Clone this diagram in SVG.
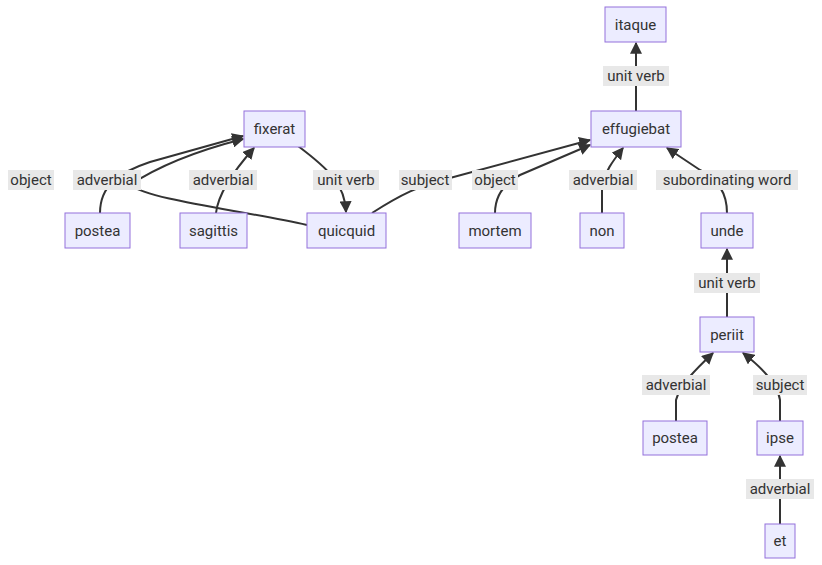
<svg xmlns="http://www.w3.org/2000/svg" width="822" height="565" viewBox="0 0 822 565">
<style>
.n rect{fill:#ECECFF;stroke:#9370DB;stroke-width:1}
text{font-family:Roboto,"Liberation Sans",sans-serif;font-size:15px;fill:#333;text-anchor:middle;dominant-baseline:central}
.e path{fill:none;stroke:#333;stroke-width:2}
.l rect{fill:#e8e8e8}
</style>
<defs><marker id="a" viewBox="0 0 10 10" refX="9" refY="5" markerWidth="6" markerHeight="6" orient="auto"><path d="M0,0L10,5L0,10z" fill="#333"/></marker></defs>
<rect width="822" height="565" fill="#fff"/>
<g class="e">
<path d="M100,213C100,185 120,172 150,162L243,136" marker-end="url(#a)"/>
<path d="M307,225C240,210 150,200 130,185C160,165 200,150 243,139" marker-end="url(#a)"/>
<path d="M216,213C218,195 230,175 254,148" marker-end="url(#a)"/>
<path d="M298,146C330,170 345,185 346,212" marker-end="url(#a)"/>
<path d="M372,213C400,195 420,185 450,178L590,140" marker-end="url(#a)"/>
<path d="M495,213C495,195 505,183 520,175L590,145" marker-end="url(#a)"/>
<path d="M602,213L602,185C605,172 612,162 623,148" marker-end="url(#a)"/>
<path d="M727,213C727,195 720,180 700,170L667,148" marker-end="url(#a)"/>
<path d="M636,111L636,43" marker-end="url(#a)"/>
<path d="M727,317L727,249" marker-end="url(#a)"/>
<path d="M676,421L676,400C680,385 695,370 713,353" marker-end="url(#a)"/>
<path d="M780,421L780,400C778,385 765,370 743,353" marker-end="url(#a)"/>
<path d="M780,524L780,456" marker-end="url(#a)"/>
</g>
<g class="l">
<rect x="8" y="170" width="46" height="20"/><text x="31" y="180">object</text>
<rect x="73" y="170" width="68" height="20"/><text x="107" y="180">adverbial</text>
<rect x="189" y="170" width="68" height="20"/><text x="223" y="180">adverbial</text>
<rect x="313" y="170" width="66" height="20"/><text x="346" y="180">unit verb</text>
<rect x="399" y="170" width="53" height="20"/><text x="425" y="180">subject</text>
<rect x="472" y="170" width="46" height="20"/><text x="495" y="180">object</text>
<rect x="569" y="170" width="68" height="20"/><text x="603" y="180">adverbial</text>
<rect x="656" y="170" width="142" height="20"/><text x="727" y="180">subordinating word</text>
<rect x="603" y="66" width="66" height="20"/><text x="636" y="76">unit verb</text>
<rect x="694" y="273" width="66" height="20"/><text x="727" y="283">unit verb</text>
<rect x="642" y="375" width="68" height="20"/><text x="676" y="385">adverbial</text>
<rect x="753" y="375" width="54" height="20"/><text x="780" y="385">subject</text>
<rect x="746" y="479" width="68" height="20"/><text x="780" y="489">adverbial</text>
</g>
<g class="n" id="fixerat"><rect x="244" y="111" width="61" height="36"/><text x="274.5" y="129">fixerat</text></g>
<g class="n" id="postea1"><rect x="65" y="213" width="65" height="35"/><text x="97.5" y="231">postea</text></g>
<g class="n" id="sagittis"><rect x="180" y="213" width="67" height="35"/><text x="213.5" y="231">sagittis</text></g>
<g class="n" id="quicquid"><rect x="307" y="213" width="79" height="35"/><text x="346.5" y="231">quicquid</text></g>
<g class="n" id="effugiebat"><rect x="591" y="111" width="90" height="36"/><text x="636" y="129">effugiebat</text></g>
<g class="n" id="itaque"><rect x="605" y="7" width="61" height="35"/><text x="635.5" y="25">itaque</text></g>
<g class="n" id="mortem"><rect x="459" y="213" width="72" height="35"/><text x="495" y="231">mortem</text></g>
<g class="n" id="non"><rect x="580" y="213" width="44" height="35"/><text x="602" y="231">non</text></g>
<g class="n" id="unde"><rect x="701" y="213" width="52" height="35"/><text x="727" y="231">unde</text></g>
<g class="n" id="periit"><rect x="700" y="317" width="54" height="35"/><text x="727" y="335">periit</text></g>
<g class="n" id="postea2"><rect x="643" y="421" width="64" height="34"/><text x="675" y="438">postea</text></g>
<g class="n" id="ipse"><rect x="757" y="421" width="46" height="34"/><text x="780" y="438">ipse</text></g>
<g class="n" id="et"><rect x="765" y="524" width="30" height="34"/><text x="780" y="541">et</text></g>
</svg>
